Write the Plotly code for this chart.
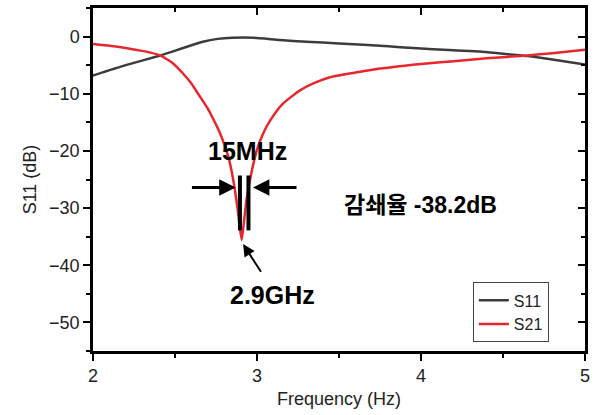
import plotly.graph_objects as go

# S11 (dark gray)
s11_freq = [2.0, 2.2, 2.41, 2.55, 2.67, 2.76, 2.85, 2.98, 3.14, 3.3, 3.5, 3.8, 3.95, 4.2, 4.36, 4.5, 4.65, 4.8, 5.0]
s11_db = [-6.8, -5.0, -3.3, -2.0, -0.9, -0.4, -0.2, -0.2, -0.6, -0.9, -1.2, -1.7, -2.0, -2.4, -2.6, -3.0, -3.4, -4.0, -4.9]

# S21 (red)
s21_freq = [2.0, 2.1, 2.2, 2.3, 2.35, 2.41, 2.48, 2.55, 2.6, 2.65, 2.7, 2.74, 2.77, 2.8, 2.825,
            2.845, 2.865, 2.88, 2.895, 2.907, 2.92, 2.935, 2.957, 2.975, 2.998, 3.018, 3.05, 3.08,
            3.12, 3.16, 3.21, 3.262, 3.35, 3.445, 3.6, 3.75, 3.9, 4.0, 4.2, 4.4, 4.65, 4.8, 5.0]
s21_db = [-1.3, -1.6, -2.0, -2.5, -2.8, -3.3, -4.5, -6.5, -8.2, -10.4, -12.6, -14.8, -16.6, -18.8,
          -21.0, -23.5, -26.8, -29.8, -33.3, -35.6, -32.5, -28.8, -25.1, -22.6, -20.0, -18.3, -16.2,
          -14.7, -13.0, -11.7, -10.5, -9.4, -8.1, -7.1, -6.3, -5.6, -5.1, -4.8, -4.3, -3.8, -3.3,
          -2.9, -2.3]

x_range = [2, 5]
y_range = [-55, 5]
x_ticks = [2, 3, 4, 5]
y_ticks = [0, -10, -20, -30, -40, -50]

font_main = "Liberation Sans, Arial, Noto Sans CJK KR, sans-serif"

fig = go.Figure()
fig.add_trace(go.Scatter(x=s11_freq, y=s11_db, mode="lines", name="S11",
                         line=dict(color="#3c3c3c", width=2.5, shape="spline", smoothing=0.5)))
fig.add_trace(go.Scatter(x=s21_freq, y=s21_db, mode="lines", name="S21",
                         line=dict(color="#e8262e", width=2.5, shape="spline", smoothing=0.4)))

axis_common = dict(showgrid=False, zeroline=False, showline=True, linecolor="black", linewidth=2.5,
                   automargin=False)

fig.update_layout(
    width=596, height=415,
    margin=dict(l=93, r=11, t=8, b=64),
    paper_bgcolor="white", plot_bgcolor="white",
    font=dict(family=font_main, size=17, color="#222"),
    xaxis=dict(range=x_range, tickvals=x_ticks, ticks="outside", ticklen=7, tickwidth=2,
               tickcolor="black", minor=dict(dtick=0.5, ticks="outside", ticklen=4, tickwidth=2, tickcolor="black"),
               title=dict(text="Frequency (Hz)", font=dict(size=18), standoff=8),
               tickfont=dict(size=18), **axis_common),
    yaxis=dict(range=y_range, tickvals=y_ticks, ticks="outside", ticklen=7, tickwidth=2,
               tickcolor="black", minor=dict(dtick=5, ticks="outside", ticklen=4, tickwidth=2, tickcolor="black"),
               title=dict(text="S11 (dB)", font=dict(size=18), standoff=8),
               tickfont=dict(size=18), **axis_common),
    xaxis2=dict(range=x_range, overlaying="x", side="top", tickvals=x_ticks, ticks="inside", ticklen=7,
                tickwidth=2, tickcolor="black", showticklabels=False,
                minor=dict(dtick=0.5, ticks="inside", ticklen=4, tickwidth=2, tickcolor="black"),
                **axis_common),
    yaxis2=dict(range=y_range, overlaying="y", side="right", tickvals=y_ticks, ticks="inside", ticklen=7,
                tickwidth=2, tickcolor="black", showticklabels=False,
                minor=dict(dtick=5, ticks="inside", ticklen=4, tickwidth=2, tickcolor="black"),
                **axis_common),
    legend=dict(x=0.772, y=0.2, xanchor="left", yanchor="top", bgcolor="white",
                bordercolor="#444", borderwidth=1, font=dict(size=16), tracegroupgap=0),
    showlegend=True,
)

# invisible trace to make the mirrored axes render
fig.add_trace(go.Scatter(x=[None], y=[None], xaxis="x2", yaxis="y2", showlegend=False, hoverinfo="skip"))

# vertical bars marking bandwidth
for xv in [2.896, 2.948]:
    fig.add_shape(type="line", x0=xv, x1=xv, y0=-24.3, y1=-33.9, xref="x", yref="y",
                  line=dict(color="black", width=4))

bold_black = dict(family=font_main, size=25, color="black")

fig.add_annotation(x=2.87, y=-26.4, ax=2.594, ay=-26.4, xref="x", yref="y", axref="x", ayref="y",
                   text="", showarrow=True, arrowhead=2, arrowsize=1.1, arrowwidth=3, arrowcolor="black")
fig.add_annotation(x=2.975, y=-26.4, ax=3.25, ay=-26.4, xref="x", yref="y", axref="x", ayref="y",
                   text="", showarrow=True, arrowhead=2, arrowsize=1.1, arrowwidth=3, arrowcolor="black")
fig.add_annotation(x=2.915, y=-36.3, ax=3.03, ay=-41.4, xref="x", yref="y", axref="x", ayref="y",
                   text="", showarrow=True, arrowhead=2, arrowsize=1.2, arrowwidth=2, arrowcolor="black")

fig.add_annotation(x=2.94, y=-20.1, xref="x", yref="y", text="<b>15MHz</b>", showarrow=False, font=bold_black)
fig.add_annotation(x=3.095, y=-45.2, xref="x", yref="y", text="<b>2.9GHz</b>", showarrow=False, font=bold_black)
fig.add_annotation(x=3.998, y=-29.5, xref="x", yref="y", text="<b>감쇄율 -38.2dB</b>", showarrow=False,
                   font=dict(family=font_main, size=23, color="black"))

fig.write_html("out.html", config={"displayModeBar": False},
               post_script="document.body.style.margin='0';document.body.style.overflow='hidden';")
